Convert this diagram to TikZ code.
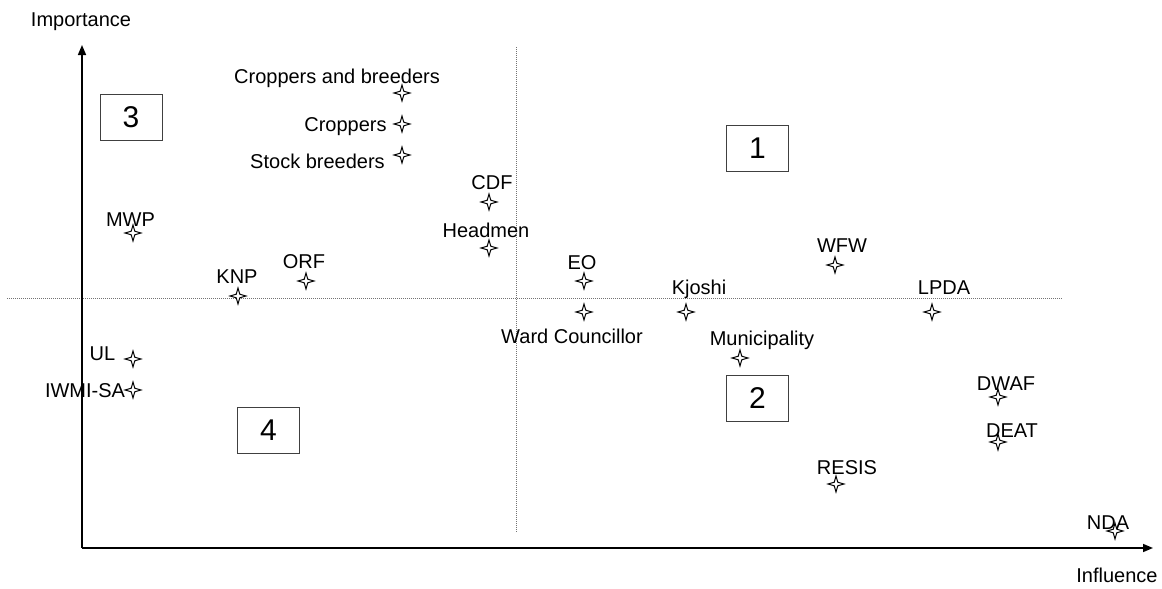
\documentclass[tikz,border=0pt]{standalone}
\usepackage{fontspec}
\setmainfont{Liberation Sans}
\usetikzlibrary{shapes.geometric,arrows.meta}
\begin{document}
\begin{tikzpicture}[x=1pt,y=-1pt]
    \useasboundingbox (0,0) rectangle (1162,589);
    \tikzset{GuideStyle/.style={draw=black!55, line width=0.7pt, dash pattern=on 1pt off 1pt}}
    \tikzset{AxisStyle/.style={-{Triangle[length=10pt,width=8pt]}, line width=1.5pt}}
    \tikzset{BoxStyle/.style={draw=black!75, line width=1pt, minimum width=62pt, minimum height=46pt, inner sep=0pt, font=\fontsize{30}{36}\selectfont}}
    \tikzset{StakeStyle/.style={star, star points=4, star point ratio=3.2, minimum size=16pt, inner sep=0pt, draw=black, fill=white, line width=1pt}}
    \tikzset{LabelStyle/.style={inner sep=0pt, text height=14.5pt, text depth=0pt, font=\fontsize{20}{24}\selectfont}}

    % quadrant guides
    \coordinate (HL) at (7,298);
    \coordinate (HR) at (1062,298);
    \coordinate (VT) at (516,47);
    \coordinate (VB) at (516,533);
    \draw[GuideStyle] (HL) -- (HR);
    \draw[GuideStyle] (VT) -- (VB);

    % axes
    \coordinate (O) at (82,548);
    \coordinate (Ytop) at (82,45);
    \coordinate (Xend) at (1153,548);
    \draw[AxisStyle] (O) -- (Ytop);
    \draw[AxisStyle] (O) -- (Xend);
    \node[LabelStyle] (Imp) at (81,19) {Importance};
    \node[LabelStyle] (Inf) at (1117,575) {Influence};

    % quadrant numbers
    \node[BoxStyle] (Q1) at (757.5,148) {1};
    \node[BoxStyle] (Q2) at (757.5,398.5) {2};
    \node[BoxStyle] (Q3) at (131,117) {3};
    \node[BoxStyle] (Q4) at (268.5,430) {4};

    % stakeholders
    \node[StakeStyle] (CAB) at (402,93) {};
    \node[StakeStyle] (CRP) at (402,124) {};
    \node[StakeStyle] (STB) at (402,155) {};
    \node[StakeStyle] (CDF) at (489,202) {};
    \node[StakeStyle] (HDM) at (489,248) {};
    \node[StakeStyle] (MWP) at (133,233) {};
    \node[StakeStyle] (KNP) at (238,296) {};
    \node[StakeStyle] (ORF) at (306,281) {};
    \node[StakeStyle] (EO) at (584,281) {};
    \node[StakeStyle] (WC) at (584,312) {};
    \node[StakeStyle] (KJO) at (686,312) {};
    \node[StakeStyle] (WFW) at (835,265) {};
    \node[StakeStyle] (LPDA) at (932,312) {};
    \node[StakeStyle] (MUN) at (740,358) {};
    \node[StakeStyle] (UL) at (133,359) {};
    \node[StakeStyle] (IWMI) at (133,390) {};
    \node[StakeStyle] (DWAF) at (998,397) {};
    \node[StakeStyle] (DEAT) at (998,442) {};
    \node[StakeStyle] (RESIS) at (836,484) {};
    \node[StakeStyle] (NDA) at (1115,531) {};

    % names
    \node[LabelStyle] (CABL) at (337,76) {Croppers and breeders};
    \node[LabelStyle] (CRPL) at (345.5,124) {Croppers};
    \node[LabelStyle] (STBL) at (317.5,161) {Stock breeders};
    \node[LabelStyle] (CDFL) at (492,182) {CDF};
    \node[LabelStyle] (HDML) at (486,230) {Headmen};
    \node[LabelStyle] (MWPL) at (130.5,219) {MWP};
    \node[LabelStyle] (KNPL) at (237,276) {KNP};
    \node[LabelStyle] (ORFL) at (304,261) {ORF};
    \node[LabelStyle] (EOL) at (582,262) {EO};
    \node[LabelStyle] (WCL) at (572,336) {Ward Councillor};
    \node[LabelStyle] (KJOL) at (699,287) {Kjoshi};
    \node[LabelStyle] (WFWL) at (842,245) {WFW};
    \node[LabelStyle] (LPDAL) at (944,287) {LPDA};
    \node[LabelStyle] (MUNL) at (762,338) {Municipality};
    \node[LabelStyle] (ULL) at (102.5,353) {UL};
    \node[LabelStyle] (IWMIL) at (85,390) {IWMI-SA};
    \node[LabelStyle] (DWAFL) at (1006,383) {DWAF};
    \node[LabelStyle] (DEATL) at (1012,430) {DEAT};
    \node[LabelStyle] (RESISL) at (847,467) {RESIS};
    \node[LabelStyle] (NDAL) at (1108,522) {NDA};
\end{tikzpicture}
\end{document}
